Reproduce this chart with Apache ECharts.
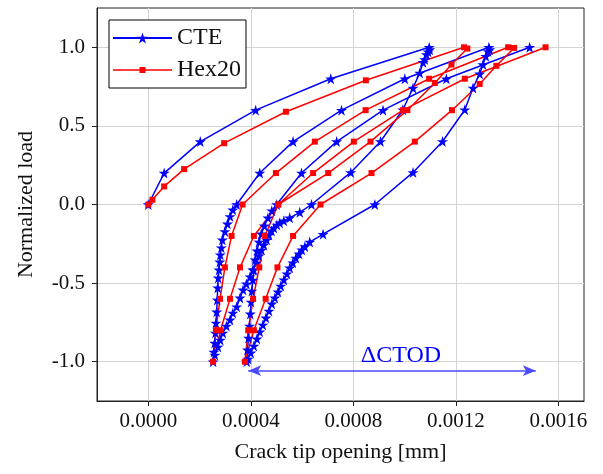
<!DOCTYPE html>
<html>
<head>
<meta charset="utf-8">
<script src="https://cdn.jsdelivr.net/npm/echarts@6/dist/echarts.min.js"></script>
<style>
html, body { margin: 0; padding: 0; background: #fff; }
#chart { width: 603px; height: 474px; }
</style>
</head>
<body>
<div id="chart"></div>
<script>
// [crack tip opening (mm), normalized load]
var cteLoad0 = [[0,0],[0.000062,0.2],[0.000203,0.4],[0.000419,0.6],[0.000712,0.8],[0.001096,1.0]];
var cteUnload1 = [[0.001096,1.0],[0.001098,0.985],[0.001092,0.971],[0.001085,0.954],[0.001079,0.922],[0.001072,0.904],[0.001059,0.837],[0.001033,0.741],[0.000993,0.603],[0.000906,0.401],[0.00079,0.204],[0.000637,0.0],[0.000591,-0.05],[0.000552,-0.085],[0.000529,-0.104],[0.000513,-0.117],[0.000502,-0.13],[0.00049,-0.149],[0.000481,-0.168],[0.000471,-0.194],[0.000462,-0.225],[0.000451,-0.257],[0.000442,-0.289],[0.000432,-0.327],[0.000423,-0.371],[0.000408,-0.416],[0.000397,-0.46],[0.000383,-0.505],[0.00037,-0.543],[0.000358,-0.594],[0.000345,-0.65],[0.00033,-0.69],[0.000319,-0.734],[0.000305,-0.773],[0.000291,-0.817],[0.000281,-0.862],[0.000272,-0.906],[0.00026,-0.957],[0.000253,-1.0]];
var cteReload1 = [[0.000253,-1.0],[0.000256,-0.938],[0.000259,-0.881],[0.000262,-0.817],[0.000264,-0.754],[0.000267,-0.683],[0.000269,-0.607],[0.000271,-0.53],[0.000273,-0.467],[0.000276,-0.416],[0.000279,-0.365],[0.000281,-0.32],[0.000285,-0.275],[0.000289,-0.225],[0.000299,-0.172],[0.000309,-0.123],[0.000319,-0.076],[0.00033,-0.034],[0.000345,0.0],[0.000435,0.2],[0.000565,0.4],[0.000754,0.6],[0.001001,0.8],[0.001329,1.0]];
var cteUnload2 = [[0.001329,1.0],[0.001332,0.985],[0.001326,0.973],[0.001317,0.943],[0.001306,0.89],[0.001293,0.831],[0.001267,0.741],[0.001235,0.603],[0.001148,0.401],[0.001033,0.204],[0.000884,0.0],[0.000682,-0.189],[0.00063,-0.239],[0.000611,-0.268],[0.000599,-0.288],[0.000588,-0.314],[0.000576,-0.34],[0.000564,-0.371],[0.000552,-0.403],[0.000541,-0.441],[0.000529,-0.479],[0.000517,-0.518],[0.000506,-0.556],[0.000494,-0.594],[0.000482,-0.632],[0.000471,-0.677],[0.000459,-0.721],[0.000447,-0.766],[0.000435,-0.81],[0.000424,-0.855],[0.000412,-0.9],[0.0004,-0.944],[0.000389,-0.983],[0.000384,-1.0]];
var cteReload2 = [[0.000384,-1.0],[0.000387,-0.925],[0.000391,-0.849],[0.000395,-0.773],[0.000398,-0.696],[0.000401,-0.62],[0.000404,-0.55],[0.000408,-0.48],[0.000412,-0.416],[0.000417,-0.352],[0.000424,-0.295],[0.000432,-0.238],[0.000441,-0.187],[0.000453,-0.136],[0.000467,-0.085],[0.000482,-0.04],[0.000501,0.0],[0.000598,0.2],[0.000735,0.4],[0.000916,0.6],[0.001163,0.8],[0.001488,1.0]];

var hexLoad0 = [[0,0],[0.000016,0.03],[0.000062,0.115],[0.00014,0.225],[0.000296,0.39],[0.000537,0.59],[0.000849,0.79],[0.001232,1.0]];
var hexUnload1 = [[0.001232,1.0],[0.001245,0.992],[0.001183,0.89],[0.001118,0.773],[0.001011,0.6],[0.000867,0.4],[0.000702,0.2],[0.000507,0.0],[0.000412,-0.2],[0.000358,-0.4],[0.000319,-0.6],[0.000282,-0.8],[0.000253,-1.0]];
var hexReload1 = [[0.000253,-1.0],[0.000264,-0.8],[0.00028,-0.6],[0.000299,-0.4],[0.000325,-0.2],[0.000368,0.0],[0.000498,0.2],[0.00065,0.4],[0.000848,0.6],[0.001096,0.8],[0.001404,1.0]];
var hexUnload2 = [[0.001404,1.0],[0.001427,0.996],[0.001358,0.882],[0.001293,0.767],[0.001185,0.6],[0.00104,0.4],[0.000871,0.2],[0.000672,0.0],[0.000565,-0.2],[0.000504,-0.4],[0.000458,-0.6],[0.000412,-0.8],[0.000377,-1.0]];
var hexReload2 = [[0.000377,-1.0],[0.00039,-0.8],[0.000409,-0.6],[0.000433,-0.4],[0.000455,-0.2],[0.000507,0.0],[0.000643,0.2],[0.000802,0.4],[0.000994,0.6],[0.001235,0.8],[0.00155,1.0]];

var xTicks = [0, 0.0004, 0.0008, 0.0012, 0.0016];
var yTicks = [-1.0, -0.5, 0.0, 0.5, 1.0];
// delta CTOD arrow
var arrowX = [0.00039, 0.001512];
var arrowY = -1.057;

var FONT = "'Liberation Serif', 'DejaVu Serif', serif";
var STAR = 'path://M50 0 L61.17 34.63 L97.55 34.55 L68.07 55.87 L79.39 90.45 L50 69 L20.61 90.45 L31.93 55.87 L2.45 34.55 L38.83 34.63 Z';
// legend icon for Hex20: line with a small square, bbox kept at 59x14
var HEX_ICON = 'path://M0 0 L0.05 0 L0 0.05 Z M0 6.25 L59 6.25 L59 7.75 L0 7.75 Z M26.5 4 L32.5 4 L32.5 10 L26.5 10 Z M59 14 L58.95 14 L59 13.95 Z';

function joinPath(parts) {
    var out = parts[0].slice();
    for (var i = 1; i < parts.length; i++) {
        out = out.concat(parts[i].slice(1));
    }
    return out;
}

var cteData = joinPath([cteLoad0, cteUnload1, cteReload1, cteUnload2, cteReload2]);
var hexData = joinPath([hexLoad0, hexUnload1, hexReload1, hexUnload2, hexReload2]);

var chart = echarts.init(document.getElementById('chart'));
chart.setOption({
    animation: false,
    backgroundColor: '#fff',
    grid: {
        left: 97, right: 19, top: 8, bottom: 73,
        show: true, borderColor: '#222', borderWidth: 1
    },
    legend: {
        left: 109, top: 20,
        orient: 'vertical',
        backgroundColor: '#fff',
        borderColor: '#000', borderWidth: 1, borderRadius: 0,
        padding: [4, 5, 4, 3],
        itemGap: 4,
        itemWidth: 59, itemHeight: 14,
        textStyle: { fontFamily: FONT, fontSize: 24, color: '#111', lineHeight: 28 },
        data: [
            { name: 'CTE' },
            { name: 'Hex20', icon: HEX_ICON, itemStyle: { borderWidth: 0 } }
        ]
    },
    xAxis: {
        type: 'value',
        min: -0.0002, max: 0.0017,
        name: 'Crack tip opening [mm]',
        nameLocation: 'middle', nameGap: 40,
        nameTextStyle: { fontFamily: FONT, fontSize: 22, color: '#111' },
        axisLine: { show: true, onZero: false, lineStyle: { color: '#222' } },
        axisTick: { show: true, inside: false, length: 5, customValues: xTicks, lineStyle: { color: '#222' } },
        axisLabel: {
            customValues: xTicks, margin: 10,
            fontFamily: FONT, fontSize: 21, color: '#111',
            formatter: function (v) { return v.toFixed(4); }
        },
        splitLine: { show: true, lineStyle: { color: '#d4d4d4', width: 1 } }
    },
    yAxis: {
        type: 'value',
        min: -1.25, max: 1.25,
        name: 'Normalized load',
        nameLocation: 'middle', nameGap: 60,
        nameTextStyle: { fontFamily: FONT, fontSize: 22, color: '#111' },
        axisLine: { show: true, onZero: false, lineStyle: { color: '#222' } },
        axisTick: { show: true, inside: false, length: 5, customValues: yTicks, lineStyle: { color: '#222' } },
        axisLabel: {
            customValues: yTicks, margin: 12,
            fontFamily: FONT, fontSize: 21, color: '#111',
            formatter: function (v) { return v.toFixed(1); }
        },
        splitLine: { show: true, lineStyle: { color: '#d4d4d4', width: 1 } }
    },
    series: [
        {
            name: 'CTE', type: 'line',
            data: cteData,
            color: '#0000ff',
            symbol: STAR, symbolSize: 11,
            showSymbol: true,
            lineStyle: { color: '#0000ff', width: 1.5 },
            itemStyle: { color: '#0000ff' },
            markLine: {
                silent: true,
                symbol: ['arrow', 'arrow'],
                symbolSize: [8, 13],
                lineStyle: { color: '#4a4aff', width: 1.5, type: 'solid' },
                label: {
                    show: true, position: 'middle', formatter: 'ΔCTOD',
                    fontFamily: FONT, fontSize: 24, color: '#0000ff',
                    distance: 3, padding: [0, 0, 0, 18]
                },
                data: [[{ coord: [arrowX[0], arrowY] }, { coord: [arrowX[1], arrowY] }]]
            }
        },
        {
            name: 'Hex20', type: 'line',
            data: hexData,
            color: '#ff0000',
            symbol: 'rect', symbolSize: 6,
            showSymbol: true,
            lineStyle: { color: '#ff0000', width: 1.5 },
            itemStyle: { color: '#ff0000' }
        }
    ]
});
</script>
</body>
</html>
